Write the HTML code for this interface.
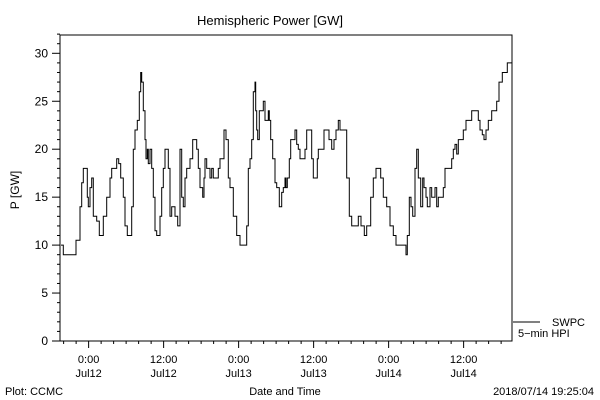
<!DOCTYPE html>
<html><head><meta charset="utf-8"><style>
body{margin:0;background:#fff;}
svg{display:block;font-family:"Liberation Sans",sans-serif;}
</style></head><body>
<svg width="600" height="400" viewBox="0 0 600 400" id="chart">
<rect width="600" height="400" fill="#fff"/>
<text x="270" y="25" font-size="13" text-anchor="middle">Hemispheric Power [GW]</text>
<text transform="translate(19,190) rotate(-90)" font-size="12" text-anchor="middle">P [GW]</text>
<rect x="60" y="35" width="452" height="306" fill="none" stroke="#000" stroke-width="1"/>
<g id="yaxis"></g>
<g id="xaxis"></g>
<path id="series" fill="none" stroke="#000" stroke-width="1"/>
<line x1="513" y1="322" x2="540" y2="322" stroke="#000"/>
<text x="552" y="326" font-size="11">SWPC</text>
<text x="518" y="337" font-size="11">5−min HPI</text>
<text x="5" y="395" font-size="11">Plot: CCMC</text>
<text x="285" y="395" font-size="11" text-anchor="middle">Date and Time</text>
<text x="594" y="395" font-size="11" text-anchor="end">2018/07/14 19:25:04</text>
</svg>
<script>
const hours=[0.16,0.53,2.4,2.56,3.2,3.47,3.73,4.0,4.37,4.53,4.8,5.07,5.33,5.87,6.29,6.56,6.93,7.47,8.0,8.27,8.8,9.07,9.39,9.71,10.13,10.4,10.77,11.2,11.47,11.73,12.0,12.37,12.69,12.91,13.07,13.33,13.6,13.76,13.97,14.13,14.4,14.67,14.93,15.2,15.47,15.73,16.0,16.27,16.53,16.8,17.07,17.33,17.6,17.87,18.13,18.4,18.83,19.2,19.47,19.73,20.0,20.27,20.53,20.8,21.23,21.6,21.87,22.13,22.4,22.83,23.04,23.2,23.47,24.0,24.27,24.53,25.07,25.33,25.6,25.87,26.24,26.56,26.93,27.2,27.47,27.73,28.27,28.8,29.6,29.87,30.13,30.4,30.67,30.93,31.2,31.31,31.47,31.63,31.89,32.27,32.53,32.8,33.07,33.33,33.49,33.71,34.03,34.4,34.67,35.09,35.31,35.47,35.73,36.0,36.16,36.37,36.69,36.91,37.33,37.6,37.87,38.13,38.4,39.2,39.47,40.0,40.27,40.53,40.96,41.17,41.33,41.87,42.24,42.67,43.04,43.47,43.84,44.16,44.53,44.8,45.49,45.87,46.29,46.67,47.47,47.73,48.16,48.43,48.69,49.07,49.33,49.71,50.13,50.56,50.93,51.31,51.73,52.27,52.8,53.33,53.76,55.04,55.36,55.57,55.89,56.16,56.43,56.8,57.07,57.33,57.71,58.03,58.24,58.56,58.77,59.2,59.47,59.73,60.0,60.27,60.53,60.8,61.33,61.6,62.13,62.67,62.93,63.2,63.47,63.73,64.27,64.53,64.96,65.33,65.87,66.4,66.93,67.2,67.57,67.84,68.16,68.53,69.07,69.6,69.87,70.24,70.77,71.57,72.27];
const power=[10,9,9,10.5,14,16.5,18,18,15,14,16,17,13,12.5,11,11,13,15,17,18,18,19,18.5,17,15,12,11,11,14,20,22,23,26,28,27,24,21,19,20,18.5,20,18,15,11.5,11,11,13,16,18,20,20,18,13,14,14,13,12,20,15,14,17,18,18,19,21,21,20,18,16,15,17,19,18,17,18,17,17,18,19,19,22,21,17,16,16,13,11,10,10,12,18,19,21,26,27,24,22,21,24,24,25,23,23,24,23,21,19,16.5,16,14,14,15.5,16,17,16,17,19,21,21,22,20.5,20,19,20,22,22,19,17,17,19,20,20,22,22,21,20,21,22,23,22,22,17,13,12,12,13,12,12,11,12,12,15,17,18,18,17,15,14,12,11,10,10,9,11,15,14,13,18,20,17,14,17,16,15,14,16,15,15,16,14,15,15,16,18,18,19,20,20.5,19.5,21,21,22,23,23,24,24,23,22,21.5,21,22,23,24,24,25,27,28,29,29];
const yTickLabels=["0","5","10","15","20","25","30"];
const xTickLabels=[["0:00","Jul12"],["12:00","Jul12"],["0:00","Jul13"],["12:00","Jul13"],["0:00","Jul14"],["12:00","Jul14"]];
const firstMidnightHour=4.58;
const NS="http://www.w3.org/2000/svg";
const X=h=>60+h*6.25;
const Y=v=>341-v*9.59;
const yg=document.getElementById('yaxis'),xg=document.getElementById('xaxis');
function mk(tag,attrs,parent){const e=document.createElementNS(NS,tag);for(const k in attrs)e.setAttribute(k,attrs[k]);parent.appendChild(e);return e;}
for(let v=0;v<=32;v++){
  const major=v%5===0;
  const t=mk('line',{x1:60-(major?8:3),x2:60,y1:Y(v),y2:Y(v),stroke:'#000'},yg);
  
  
}
yTickLabels.forEach((s)=>{
  const tx=mk('text',{x:48,y:Y(+s)+4,'font-size':12,'text-anchor':'end'},yg);
  tx.textContent=s;
  
  
});
for(let h=firstMidnightHour-4;h<=72.3;h+=2){
  const major=Math.abs(((h-firstMidnightHour)%12+12)%12)<0.01;
  const t=mk('line',{x1:X(h),x2:X(h),y1:341,y2:341+(major?7:3),stroke:'#000'},xg);
  
  
}
xTickLabels.forEach((p,i)=>{
  const x=X(firstMidnightHour+12*i);
  const a=mk('text',{x:x,y:363,'font-size':11,'text-anchor':'middle'},xg);
  a.textContent=p[0];
  
  
  const b=mk('text',{x:x,y:377,'font-size':11,'text-anchor':'middle'},xg);
  b.textContent=p[1];
  
  
});
let d='';
hours.forEach((h,i)=>{
  const x=X(h).toFixed(1),y=Y(power[i]).toFixed(1);
  d+= i? ('H'+x+'V'+y) : ('M'+x+','+y);
});
document.getElementById('series').setAttribute('d',d);
</script>
</body></html>
